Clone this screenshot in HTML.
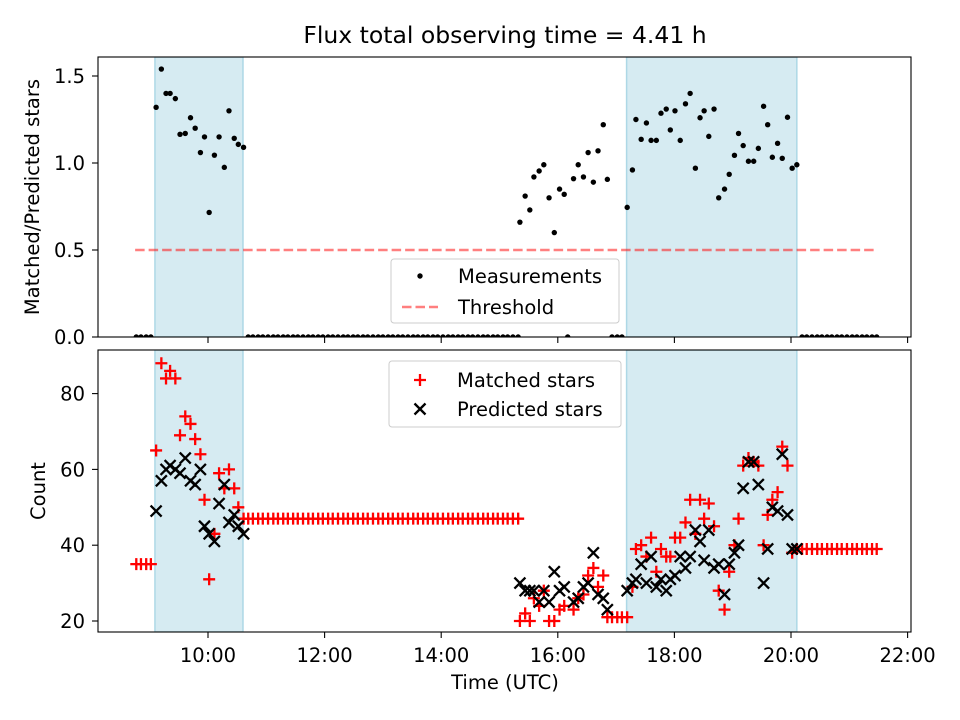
<!DOCTYPE html>
<html><head><meta charset="utf-8">
<style>
body{margin:0;background:#fff;}
svg{display:block;font-family:"DejaVu Sans","Liberation Sans",sans-serif;}
</style></head>
<body>
<svg id="chart" width="960" height="720" viewBox="0 0 960 720" xmlns="http://www.w3.org/2000/svg"></svg>
<script>
// ---- data ----
const measTimes = [9.11,9.20,9.28,9.35,9.44,9.52,9.61,9.70,9.78,9.87,9.94,10.02,10.11,10.19,10.28,10.36,10.45,10.52,10.61,
15.35,15.44,15.52,15.59,15.68,15.76,15.85,15.94,16.03,16.11,16.27,16.35,16.44,16.52,16.61,16.69,16.78,16.85,
17.19,17.28,17.34,17.43,17.52,17.60,17.69,17.77,17.86,17.93,18.01,18.10,18.19,18.27,18.36,18.44,18.51,18.59,18.68,18.76,18.86,18.94,19.03,19.10,19.18,19.27,19.36,19.44,19.53,19.60,19.68,19.77,19.85,19.94,20.02,20.10];
const measRatio = [1.32,1.54,1.40,1.40,1.37,1.165,1.17,1.26,1.20,1.06,1.15,0.716,1.045,1.15,0.975,1.30,1.142,1.107,1.09,
0.66,0.81,0.73,0.92,0.954,0.99,0.80,0.60,0.85,0.82,0.91,0.99,0.92,1.06,0.89,1.07,1.22,0.906,
0.745,0.96,1.25,1.136,1.23,1.13,1.13,1.286,1.31,1.19,1.30,1.13,1.34,1.40,0.97,1.26,1.30,1.153,1.31,0.80,0.85,0.935,1.044,1.17,1.10,1.01,1.01,1.084,1.326,1.22,1.033,1.113,1.027,1.263,0.97,0.99];
const measMatched = [65,88,84,86,84,69,74,72,68,64,52,31,43,59,55,60,55,50,47,
20,22,20,26,24,28,20,20,23,24,23,26,27,32,34,29,32,21,
21,29,39,40,37,42,33,39,37,37,42,42,46,52,43,52,47,51,45,28,23,33,40,47,61,63,62,61,40,48,52,54,66,61,38,39];
const measPredicted = [49,57,60,61,60,59,63,57,56,60,45,43,41,51,56,46,48,45,43,
30,28,28,28,25,28,25,33,28,29,25,26,29,30,38,27,26,23,
28,30,31,35,30,37,29,31,28,31,32,37,34,37,44,41,36,44,34,35,27,35,38,40,55,62,62,56,30,39,50,49,64,48,39,39];
const gapTimes = [8.77,8.85,8.94,9.02,
10.69,10.77,10.86,10.94,11.03,11.12,11.20,11.29,11.37,11.46,11.54,
11.63,11.72,11.80,11.89,11.97,12.06,12.14,12.23,12.32,12.40,12.49,
12.57,12.66,12.74,12.83,12.92,13.00,13.09,13.17,13.26,13.34,13.43,
13.52,13.60,13.69,13.77,13.86,13.94,14.03,14.12,14.20,14.29,14.37,
14.46,14.54,14.63,14.72,14.80,14.89,14.97,15.06,15.14,15.23,15.32,
16.17,16.93,17.02,17.10,
20.19,20.27,20.36,20.45,20.53,20.62,20.70,20.79,20.87,20.96,21.05,21.13,21.22,21.30,21.39,21.47];
const gapMatched = [35,35,35,35,
47,47,47,47,47,47,47,47,47,47,47,
47,47,47,47,47,47,47,47,47,47,47,
47,47,47,47,47,47,47,47,47,47,47,
47,47,47,47,47,47,47,47,47,47,47,
47,47,47,47,47,47,47,47,47,47,47,
0,21,21,21,
39,39,39,39,39,39,39,39,39,39,39,39,39,39,39,39];
const spans = [[9.09,10.6],[17.18,20.1]];
const threshold = 0.5;
const thresholdRange = [8.75,21.47];
const xTicks = [10,12,14,16,18,20,22];
const xTickLabels = ["10:00","12:00","14:00","16:00","18:00","20:00","22:00"];
const topYTicks = [0,0.5,1.0,1.5];
const topYTickLabels = ["0.0","0.5","1.0","1.5"];
const botYTicks = [20,40,60,80];
const botYTickLabels = ["20","40","60","80"];

// ---- geometry ----
const L=98,R=911, T1=57,B1=337, T2=350,B2=632;
const X = h => 208 + (h-10)*58.3;
const Y1 = v => 337 - v*174;
const Y2 = c => 621 - (c-20)*3.79;
const NS="http://www.w3.org/2000/svg";
const svg=document.getElementById('chart');
function mk(tag,attrs,parent){const e=document.createElementNS(NS,tag);for(const k in attrs)e.setAttribute(k,attrs[k]);(parent||svg).appendChild(e);return e;}
const FS='19.5';

const defs=mk('defs',{});
const c1=mk('clipPath',{id:'c1'},defs); mk('rect',{x:L,y:T1,width:R-L,height:B1-T1},c1);
const c2=mk('clipPath',{id:'c2'},defs); mk('rect',{x:L,y:T2,width:R-L,height:B2-T2},c2);

const title=mk('text',{x:505,y:43,'text-anchor':'middle','font-size':'23.5'});
title.textContent="Flux total observing time = 4.41 h";



function panel(top,bot,clip,name){
  const g=mk('g',{'clip-path':'url(#'+clip+')'});
  
  
  spans.forEach((s,i)=>{
    const r=mk('rect',{x:X(s[0]),y:top,width:X(s[1])-X(s[0]),height:bot-top,fill:'#add8e6','fill-opacity':0.5,stroke:'#add8e6','stroke-width':1.5},g);
    
    
  });
  return g;
}
const g1=panel(T1,B1,'c1','top');
const g2=panel(T2,B2,'c2','bottom');

const th=mk('line',{x1:X(thresholdRange[0]),x2:X(thresholdRange[1]),y1:Y1(threshold),y2:Y1(threshold),stroke:'#ff0000','stroke-opacity':0.5,'stroke-width':2.5,'stroke-dasharray':'9.5,4'},g1);



measTimes.forEach((t,i)=>{
  const d=mk('circle',{cx:X(t),cy:Y1(measRatio[i]),r:2.7,fill:'#000'},g1);
  
  
});
gapTimes.forEach(t=>{
  const d=mk('circle',{cx:X(t),cy:Y1(0),r:2.7,fill:'#000'},g1);
  
  
});

function plus(x,y){const p=mk('path',{d:`M${x-6},${y}H${x+6}M${x},${y-6}V${y+6}`,stroke:'#ff0000','stroke-width':2.3,fill:'none'},g2);
  
  }
function cross(x,y){const p=mk('path',{d:`M${x-5.5},${y-5.5}L${x+5.5},${y+5.5}M${x-5.5},${y+5.5}L${x+5.5},${y-5.5}`,stroke:'#000','stroke-width':2.3,fill:'none'},g2);
  
  }
gapTimes.forEach((t,i)=>plus(X(t),Y2(gapMatched[i])));
measTimes.forEach((t,i)=>plus(X(t),Y2(measMatched[i])));
measTimes.forEach((t,i)=>cross(X(t),Y2(measPredicted[i])));

function frame(top,bot,name){
  const r=mk('rect',{x:L,y:top,width:R-L,height:bot-top,fill:'none',stroke:'#000','stroke-width':1.1});
  
  
  xTicks.forEach(t=>{const l=mk('line',{x1:X(t),x2:X(t),y1:bot,y2:bot+6,stroke:'#000','stroke-width':1.1});
    
    });
}
frame(T1,B1,'top'); frame(T2,B2,'bottom');
xTicks.forEach((t,i)=>{const tx=mk('text',{x:X(t),y:662,'text-anchor':'middle','font-size':FS});tx.textContent=xTickLabels[i];
  
  });
topYTicks.forEach((v,i)=>{mk('line',{x1:L-6,x2:L,y1:Y1(v),y2:Y1(v),stroke:'#000','stroke-width':1.1});
  const tx=mk('text',{x:L-13,y:Y1(v)+7,'text-anchor':'end','font-size':FS});tx.textContent=topYTickLabels[i];
  
  });
botYTicks.forEach((v,i)=>{mk('line',{x1:L-6,x2:L,y1:Y2(v),y2:Y2(v),stroke:'#000','stroke-width':1.1});
  const tx=mk('text',{x:L-13,y:Y2(v)+7,'text-anchor':'end','font-size':FS});tx.textContent=botYTickLabels[i];
  
  });

const xl=mk('text',{x:505,y:689,'text-anchor':'middle','font-size':FS});xl.textContent="Time (UTC)";


const yl1=mk('text',{x:0,y:0,'text-anchor':'middle','font-size':FS,transform:'translate(39,197) rotate(-90)'});yl1.textContent="Matched/Predicted stars";


const yl2=mk('text',{x:0,y:0,'text-anchor':'middle','font-size':FS,transform:'translate(45,491) rotate(-90)'});yl2.textContent="Count";



const lg1=mk('g',{});


mk('rect',{x:391,y:259,width:228,height:64,rx:3,fill:'#fff','fill-opacity':0.8,stroke:'#ccc'},lg1);
mk('circle',{cx:420,cy:276,r:2.7,fill:'#000'},lg1);
let t=mk('text',{x:458,y:283,'font-size':FS},lg1);t.textContent="Measurements";
mk('line',{x1:402,x2:438,y1:307,y2:307,stroke:'#ff0000','stroke-opacity':0.5,'stroke-width':2.5,'stroke-dasharray':'9.5,4'},lg1);
t=mk('text',{x:458,y:314,'font-size':FS},lg1);t.textContent="Threshold";

const lg2=mk('g',{});


mk('rect',{x:389,y:361,width:232,height:66,rx:3,fill:'#fff','fill-opacity':0.8,stroke:'#ccc'},lg2);
mk('path',{d:'M414,380H426M420,374V386',stroke:'#ff0000','stroke-width':2.3},lg2);
t=mk('text',{x:457,y:387,'font-size':FS},lg2);t.textContent="Matched stars";
mk('path',{d:'M414.5,403.5L425.5,414.5M414.5,414.5L425.5,403.5',stroke:'#000','stroke-width':2.3},lg2);
t=mk('text',{x:457,y:416,'font-size':FS},lg2);t.textContent="Predicted stars";
</script>
</body></html>
